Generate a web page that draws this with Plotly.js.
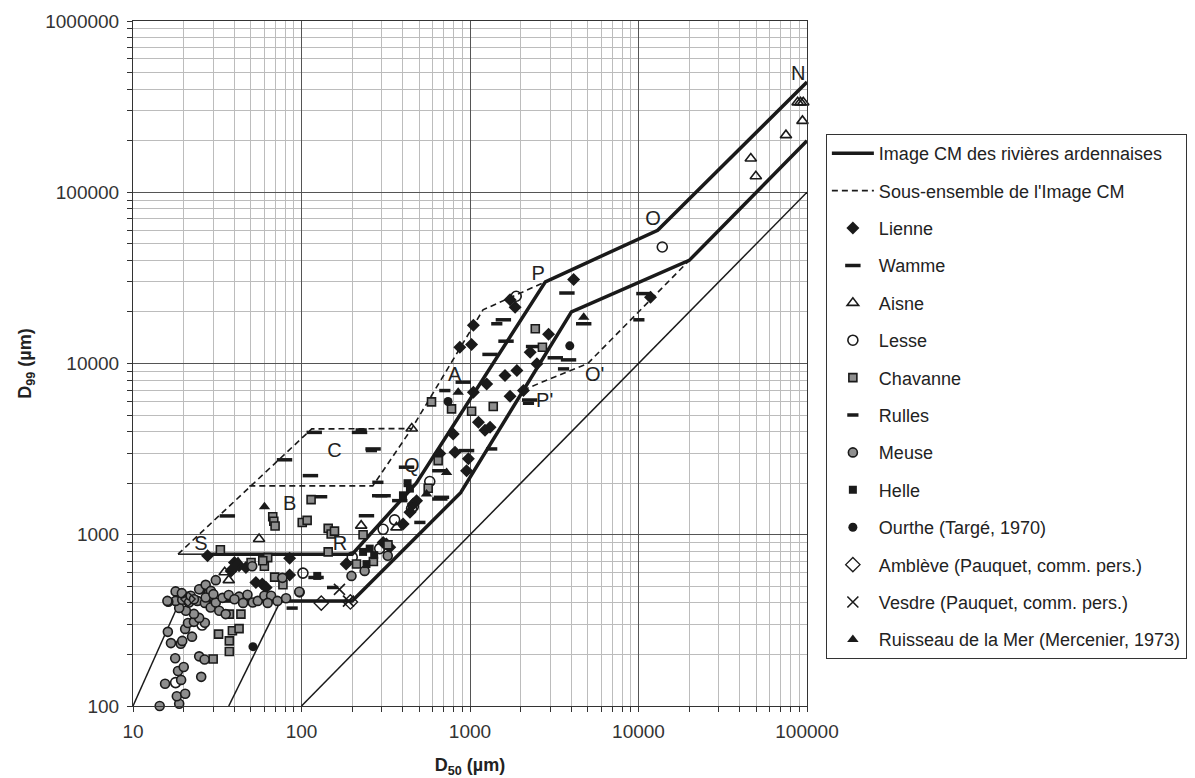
<!DOCTYPE html>
<html>
<head>
<meta charset="utf-8">
<script src="https://cdn.plot.ly/plotly-3.0.1.min.js"></script>
<style>html,body{margin:0;padding:0;background:#fff;}#chart{width:1195px;height:778px;}</style>
</head>
<body>
<div id="chart"></div>
<script>
// ---- Reference lines of the CM image (D50, D99 in µm) ----
const cmLineX = [27, 200, 480, 2800, 13000, 100000, null, 19, 200, 880, 4000, 20000, 100000];
const cmLineY = [770, 770, 2000, 30000, 60000, 440000, null, 410, 410, 1760, 20000, 40000, 200000];
const subsetX = [18.5, 115, 451, 1194, 2813, null, 49, 265, 451, null, 2066, 5000, 20000];
const subsetY = [770, 4150, 4170, 20560, 30060, null, 1929, 1929, 4170, null, 7010, 10000, 40000];
const thinX = [10, 19, null, 37, 75, null, 100, 100000, null, 18.5, 27];
const thinY = [100, 410, null, 100, 410, null, 100, 100000, null, 770, 770];

// ---- Samples ----
const lienneX = [27.7,85,38.2,42.6,40,46.8,39,53.6,58.5,61.7,85,184,319,401,460,978,815,954,795,662,334,440,482,305,4120,1729,1853,1047,870,1022,2925,2276,1897,1614,1256,1047,1729,2495,2075,1122,1315,1228,11780];
const lienneY = [754,729,615,659,689,644,630,526,516,492,583,674,884,1156,1510,2775,3030,2365,3880,2980,844,1352,1582,902,30900,23600,21300,16700,12450,12900,14800,11650,9100,8500,7600,6790,6440,9960,6950,4540,4250,4080,24400];

const wammeX = [36.3,79.3,113,128,119,221,266,122,305,243,677,291,420,383,662,662,954,1578,3760,1636,1315,2384,3207,3843,4730,912,10770,2260];
const wammeY = [1288,2740,2214,1667,3960,3960,3170,563,1690,1291,1654,1690,2480,1582,1617,2365,3100,18000,25800,13500,11300,12560,10800,10500,17060,7780,25600,6120];

const aisneX = [451,56,35,37,226,366,88000,91500,95000,94000,75000,46400,49700];
const aisneY = [4170,944,604,543,1130,1104,335000,335000,335000,261000,215500,157500,124000];

const lesseX = [17.9,25.7,102,200,357,461,577,305,291,450,1880,13840];
const lesseY = [137,297,597,740,1222,1462,2046,1076,830,1420,24700,47900];

const chavanneX = [33,67.5,68.5,69.7,114,101,108,144,150,157,144,63,50.2,60.2,69.3,37.3,43.7,32.2,38.9,42.6,37.3,37.3,29.9,77.6,58.9,591,565,777,1022,1374,2440,2690,647,232,326,267,212];
const chavanneY = [817,1273,1200,1124,1603,1180,1213,1090,1010,1050,794,735,689,655,566,344,344,263,275,283,240,208,188,511,705,5970,1870,5430,5260,5610,15970,12450,2710,1000,873,698,675];

const rullesX = [1442,709,3590,1345,226,260,504,88,153,10050,2223,284];
const rullesY = [17060,6950,9300,3170,4090,3100,1180,373,492,18000,5860,2024];

const meuseX = [14.4,18.8,18.2,20.4,15.5,19.3,18.5,20,25.4,17.8,24.7,26.6,16.8,19.2,16.1,19.6,20.4,22.4,21.2,23,26.7,24.7,23,20.6,18.8,17.9,16.2,19.6,21.5,24.1,26.7,28.9,31,32.5,35.5,34,42.6,47.8,51.4,55,60.2,66,72,81,97.5,17.9,19.5,25,28.3,16,31,24.7,27,29,51,77,97,237,325,198,22,23,27,30,37,40,45,63];
const meuseY = [100,103,114,118,135,142,160,169,148,190,195,187,233,231,271,240,282,254,305,310,306,327,345,360,374,411,406,417,402,411,400,376,402,360,344,428,435,446,402,411,440,440,411,426,461,467,456,481,461,411,543,481,510,470,655,560,465,615,754,575,440,420,430,450,445,420,400,400];

const helleX = [426,440,400,232,243,254,270,124];
const helleY = [2000,1860,1700,794,674,830,760,575];

const ourtheX = [51.5,741,3910];
const ourtheY = [222,6000,12680];

const ambleveX = [21.2,131,195];
const ambleveY = [421,399,405];

const vesdreX = [168,190];
const vesdreY = [480,410];

const ruisseauX = [60.3,42,552,726,851,4730];
const ruisseauY = [1459,698,1731,2312,6790,18650];

const labelText = ['S','B','C','R','Q','A','P',"P'",'O',"O'",'N'];
const labelX = [25.3,85,157,169,451,811,2535,2773,12200,5500,88600];
const labelY = [875,1496,3060,873,2490,8400,32900,5990,68900,8400,484000];

// ---- Styling ----
const INK = '#1a1a1a';
const GREY = '#8e8e8e';
const FONT = 'Liberation Sans, Arial, sans-serif';
let g = 0;
function pts(name, x, y, marker) {
  g += 1;
  return {type:'scatter', mode:'markers', name:name, x:x, y:y, marker:marker,
          cliponaxis:false, legendgroup:'g'+g, hoverinfo:'skip'};
}

const traces = [
  {type:'scatter', mode:'lines', name:'Image CM des rivières ardennaises', x:cmLineX, y:cmLineY,
   line:{color:INK, width:3.5}, connectgaps:false, legendgroup:'L1', hoverinfo:'skip'},
  {type:'scatter', mode:'lines', name:"Sous-ensemble de l'Image CM", x:subsetX, y:subsetY,
   line:{color:INK, width:1.6, dash:'6px,4px'}, connectgaps:false, legendgroup:'L2', hoverinfo:'skip'},
  {type:'scatter', mode:'lines', name:'thin', x:thinX, y:thinY, showlegend:false,
   line:{color:INK, width:1.5}, connectgaps:false, hoverinfo:'skip'},
  pts('Lienne', lienneX, lienneY, {symbol:'diamond', size:10, color:INK, line:{color:INK, width:0}}),
  pts('Wamme', wammeX, wammeY, {symbol:'line-ew', size:11, color:INK, line:{color:INK, width:3.5}}),
  pts('Aisne', aisneX, aisneY, {symbol:'triangle-up-open', size:10, color:INK, line:{color:INK, width:1.6}}),
  pts('Lesse', lesseX, lesseY, {symbol:'circle-open', size:10, color:INK, line:{color:INK, width:1.6}}),
  pts('Chavanne', chavanneX, chavanneY, {symbol:'square', size:8, color:GREY, line:{color:INK, width:1.6}}),
  pts('Rulles', rullesX, rullesY, {symbol:'line-ew', size:8, color:INK, line:{color:INK, width:3.5}}),
  pts('Meuse', meuseX, meuseY, {symbol:'circle', size:9, color:GREY, line:{color:INK, width:1.6}}),
  pts('Helle', helleX, helleY, {symbol:'square', size:8, color:INK, line:{color:INK, width:0}}),
  pts('Ourthe (Targé, 1970)', ourtheX, ourtheY, {symbol:'circle', size:9, color:INK, line:{color:INK, width:0}}),
  pts('Amblève (Pauquet, comm. pers.)', ambleveX, ambleveY, {symbol:'diamond-open', size:11, color:INK, line:{color:INK, width:1.4}}),
  pts('Vesdre (Pauquet, comm. pers.)', vesdreX, vesdreY, {symbol:'x-thin-open', size:11, color:INK, line:{color:INK, width:1.6}}),
  pts('Ruisseau de la Mer (Mercenier, 1973)', ruisseauX, ruisseauY, {symbol:'triangle-up', size:10, color:INK, line:{color:INK, width:0}}),
  {type:'scatter', mode:'text', x:labelX, y:labelY, text:labelText, showlegend:false,
   textfont:{size:20, color:'#222', family:FONT}, cliponaxis:false, hoverinfo:'skip'}
];

const axisCommon = {
  type:'log', dtick:1, tickformat:'d', exponentformat:'none', showexponent:'none',
  showgrid:true, gridcolor:'#555', gridwidth:1, zeroline:false,
  showline:true, linecolor:'#333', linewidth:1, mirror:true,
  ticks:'outside', ticklen:5, tickcolor:'#333', tickwidth:1,
  tickfont:{size:19, color:'#333', family:FONT},
  minor:{dtick:'D1', showgrid:true, gridcolor:'#bcbcbc', gridwidth:1, ticks:'outside', ticklen:5, tickcolor:'#333', tickwidth:1}
};

const layout = {
  width:1195, height:778,
  margin:{l:133, r:388, t:21, b:72, autoexpand:false},
  paper_bgcolor:'#fff', plot_bgcolor:'#fff',
  separators:'.',
  font:{family:FONT, color:'#222'},
  showlegend:true,
  xaxis:Object.assign({}, axisCommon, {range:[1,5], ticklabelstandoff:3, automargin:false,
    title:{text:'<b>D<sub>50</sub> (µm)</b>', font:{size:18, color:'#222'}, standoff:22}}),
  yaxis:Object.assign({}, axisCommon, {range:[2,6], ticklabelstandoff:4, automargin:false,
    title:{text:'<b>D<sub>99</sub> (µm)</b>', font:{size:18, color:'#222'}, standoff:8}}),
  legend:{x:1.028, xanchor:'left', y:0.835, yanchor:'top',
    bgcolor:'#fff', bordercolor:'#333', borderwidth:1,
    font:{size:18, color:'#222'}, tracegroupgap:11, itemwidth:42,
    traceorder:'grouped'}
};

Plotly.newPlot('chart', traces, layout, {displayModeBar:false, staticPlot:true});
</script>
</body>
</html>
